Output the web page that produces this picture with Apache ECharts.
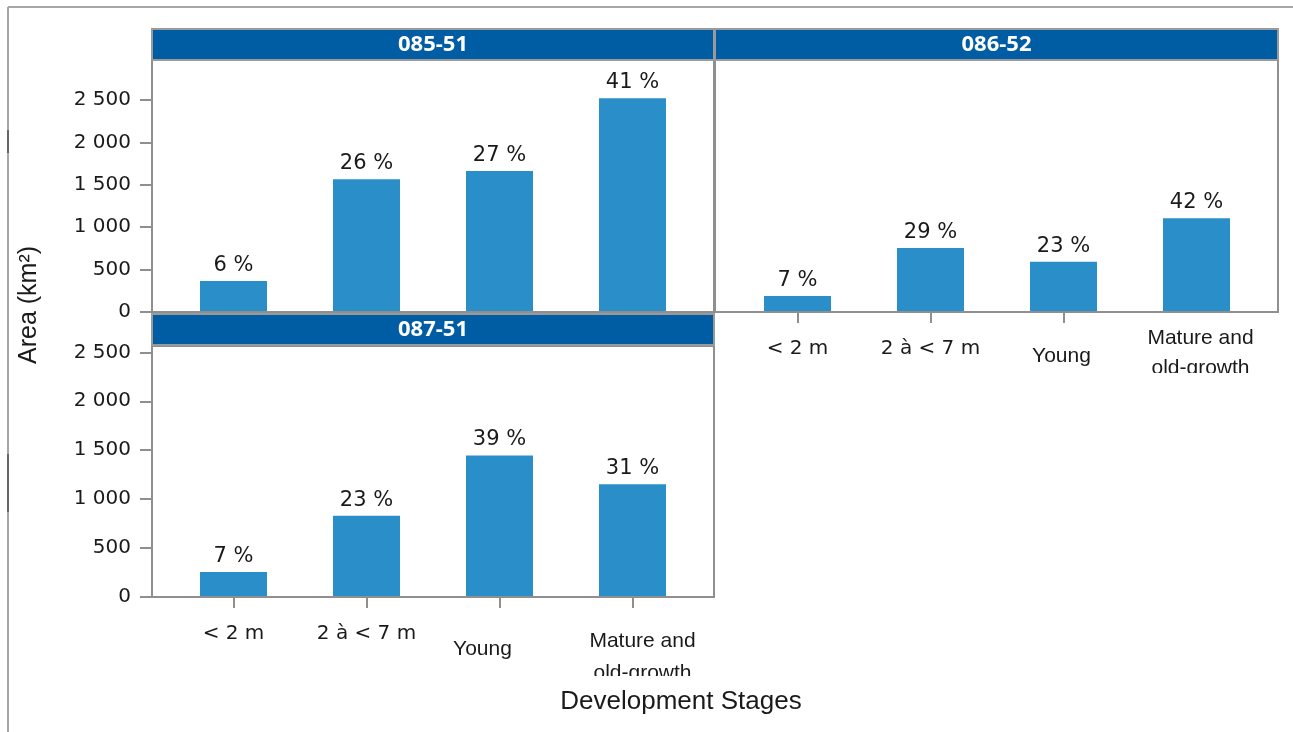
<!DOCTYPE html>
<html>
<head>
<meta charset="utf-8">
<script src="https://cdn.jsdelivr.net/npm/echarts@6.0.0/dist/echarts.min.js"></script>
<style>
html,body{margin:0;padding:0;background:#fff;}
#chart{width:1293px;height:732px;}
</style>
</head>
<body>
<div id="chart"></div>
<script>
// ---- data ----
const categories = ['< 2 m', '2 à < 7 m', 'Young', 'Mature and\nold-growth'];
const panelNames = ['085-51', '086-52', '087-51'];
const area085 = [366, 1565, 1662, 2520];
const area086 = [189, 755, 593, 1106];
const area087 = [256, 831, 1446, 1153];
const pct085 = ['6 %', '26 %', '27 %', '41 %'];
const pct086 = ['7 %', '29 %', '23 %', '42 %'];
const pct087 = ['7 %', '23 %', '39 %', '31 %'];
const yTicks = [0, 500, 1000, 1500, 2000, 2500];
const yTickLabels = ['0', '500', '1 000', '1 500', '2 000', '2 500'];
const yTitle = 'Area (km²)';
const xTitle = 'Development Stages';

// ---- style ----
const BAR = '#2a8fc9';
const HEAD = '#005da4';
const GRAY = '#8f8f8f';
const TXT = '#1a1a1a';
const SANS = 'DejaVu Sans';
const ARIAL = 'Liberation Sans, Arial';

const chart = echarts.init(document.getElementById('chart'), null, {renderer: 'canvas'});

function xLabelFmt(panel) {
  return function (value, idx) {
    if (idx === 3) {
      const parts = value.split('\n');
      const body = '{m1|' + parts[0] + '}\n{m2|' + parts[1] + '}';
      return panel === 2 ? '{s| }\n' + body : body;
    }
    if (idx === 2) return '{y|' + value + '}';
    return '{o|' + value + '}';
  };
}

function richFor(panel) {
  const base = {verticalAlign: 'middle', color: TXT};
  if (panel === 1) {
    return {
      o: Object.assign({}, base, {fontFamily: SANS, fontSize: 20, lineHeight: 54}),
      y: Object.assign({}, base, {fontFamily: ARIAL, fontSize: 21, lineHeight: 68, padding: [0, 4, 0, 0]}),
      m1: Object.assign({}, base, {fontFamily: ARIAL, fontSize: 21, lineHeight: 32, padding: [0, 0, 0, 8]}),
      m2: Object.assign({}, base, {fontFamily: ARIAL, fontSize: 21, lineHeight: 28, padding: [0, 0, 0, 8]})
    };
  }
  return {
    o: Object.assign({}, base, {fontFamily: SANS, fontSize: 20, lineHeight: 54}),
    y: Object.assign({}, base, {fontFamily: ARIAL, fontSize: 21, lineHeight: 84, padding: [0, 34, 0, 0]}),
    s: Object.assign({}, base, {fontFamily: ARIAL, fontSize: 8, lineHeight: 18}),
    m1: Object.assign({}, base, {fontFamily: ARIAL, fontSize: 21, lineHeight: 32, padding: [0, 0, 0, 20]}),
    m2: Object.assign({}, base, {fontFamily: ARIAL, fontSize: 21, lineHeight: 32, padding: [0, 0, 0, 20]})
  };
}

const grids = [
  {left: 167, top: 60, width: 532, height: 252},
  {left: 731, top: 60, width: 532, height: 252},
  {left: 167, top: 346, width: 532, height: 251}
];
const maxes = [2972, 2972, 2565];
const areas = [area085, area086, area087];
const pcts = [pct085, pct086, pct087];

const xAxes = [0, 1, 2].map(i => ({
  type: 'category',
  gridIndex: i,
  data: categories,
  axisLine: {show: false},
  axisTick: {
    show: i !== 0,
    alignWithLabel: true,
    length: 11,
    interval: i === 1 ? function (idx) { return idx < 3; } : 0,
    lineStyle: {color: GRAY, width: 2}
  },
  axisLabel: {
    show: i !== 0,
    interval: 0,
    margin: 10,
    formatter: xLabelFmt(i),
    rich: richFor(i)
  }
}));

const yAxes = [0, 1, 2].map(i => ({
  type: 'value',
  gridIndex: i,
  min: 0,
  max: maxes[i],
  show: i !== 1,
  offset: 15,
  axisLine: {show: false},
  splitLine: {show: false},
  axisTick: {show: true, length: 12, customValues: yTicks, lineStyle: {color: GRAY, width: 2}},
  axisLabel: {
    customValues: yTicks,
    margin: 21,
    fontFamily: SANS,
    fontSize: 20,
    color: TXT,
    formatter: v => yTickLabels[yTicks.indexOf(v)]
  }
}));

const series = [0, 1, 2].map(i => ({
  type: 'bar',
  xAxisIndex: i,
  yAxisIndex: i,
  data: areas[i],
  barWidth: 67,
  itemStyle: {color: BAR},
  label: {
    show: true,
    position: 'top',
    distance: 5,
    fontFamily: SANS,
    fontSize: 21,
    color: TXT,
    formatter: p => pcts[i][p.dataIndex]
  }
}));

const frames = [
  {x: 152, y: 60, w: 562, h: 252},
  {x: 715, y: 60, w: 563, h: 252},
  {x: 152, y: 346, w: 562, h: 251}
];
const heads = [
  {x: 152, y: 29, w: 562, h: 31},
  {x: 715, y: 29, w: 563, h: 31},
  {x: 152, y: 314, w: 562, h: 31}
];

const graphics = [];
// outer border lines
graphics.push({type: 'line', z: 100, shape: {x1: 8, y1: 7, x2: 1293, y2: 7}, style: {stroke: '#a6a6a6', lineWidth: 2}});
graphics.push({type: 'line', z: 100, shape: {x1: 8, y1: 7, x2: 8, y2: 732}, style: {stroke: '#a6a6a6', lineWidth: 2}});
graphics.push({type: 'line', z: 100, shape: {x1: 8, y1: 130, x2: 8, y2: 153}, style: {stroke: '#666', lineWidth: 2}});
graphics.push({type: 'line', z: 100, shape: {x1: 8, y1: 454, x2: 8, y2: 512}, style: {stroke: '#666', lineWidth: 2}});

frames.forEach(f => graphics.push({
  type: 'rect', z: 100,
  shape: {x: f.x, y: f.y, width: f.w, height: f.h},
  style: {fill: null, stroke: GRAY, lineWidth: 2}
}));
heads.forEach((h, i) => {
  graphics.push({
    type: 'rect', z: 101,
    shape: {x: h.x, y: h.y, width: h.w, height: h.h},
    style: {fill: HEAD, stroke: '#9a9a9a', lineWidth: 2}
  });
  graphics.push({
    type: 'text', z: 102,
    x: h.x + h.w / 2, y: h.y + h.h / 2,
    style: {text: panelNames[i], fill: '#fff', fontFamily: 'Open Sans', fontWeight: 'bold', fontSize: 22, textAlign: 'center', textVerticalAlign: 'middle'}
  });
});
// clipping of the wrapped last category label (as in reference)
graphics.push({type: 'rect', z: 110, shape: {x: 580, y: 676, width: 130, height: 13}, style: {fill: '#fff'}});
graphics.push({type: 'rect', z: 110, shape: {x: 1135, y: 373, width: 135, height: 14}, style: {fill: '#fff'}});
// axis titles
graphics.push({
  type: 'text', z: 120, x: 29, y: 305, rotation: Math.PI / 2,
  style: {text: yTitle, fill: TXT, fontFamily: ARIAL, fontSize: 25, textAlign: 'center', textVerticalAlign: 'middle'}
});
graphics.push({
  type: 'text', z: 120, x: 681, y: 702,
  style: {text: xTitle, fill: TXT, fontFamily: ARIAL, fontSize: 26, textAlign: 'center', textVerticalAlign: 'middle'}
});

chart.setOption({
  animation: false,
  backgroundColor: '#fff',
  grid: grids,
  xAxis: xAxes,
  yAxis: yAxes,
  series: series,
  graphic: {elements: graphics}
});
</script>
</body>
</html>
